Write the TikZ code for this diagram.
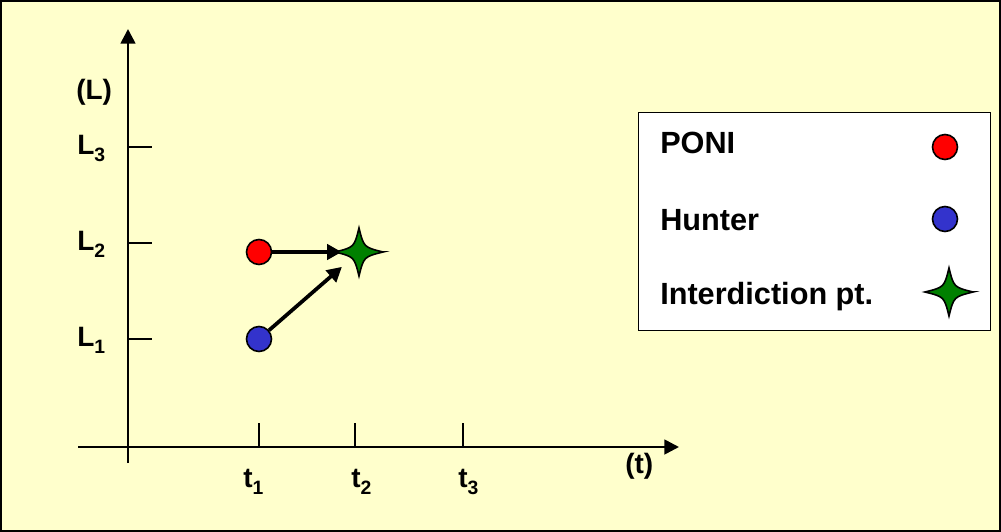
\documentclass[tikz,border=0pt]{standalone}
\usepackage{fontspec}
\setmainfont{Liberation Sans}
\usetikzlibrary{arrows.meta}
\definecolor{bgyellow}{HTML}{FFFFCC}
\definecolor{ponired}{HTML}{FF0000}
\definecolor{hunterblue}{HTML}{3333CC}
\definecolor{stargreen}{HTML}{008000}
\newcommand\axlab[2]{\fontsize{21}{22}\selectfont\bfseries #1\raisebox{-0.27em}{\fontsize{14.5}{15}\selectfont #2}}
\tikzset{
  axisline/.style={line width=2pt,-{Triangle[length=11pt,width=11pt]}},
  tickline/.style={line width=1.1pt},
  moveline/.style={line width=2.8pt,-{Triangle[length=11pt,width=11.5pt]}},
  dot/.style={circle,draw=black,line width=1.2pt,minimum size=18.75pt,inner sep=0pt},
  axtext/.style={inner sep=0pt,anchor=base west,font=\fontsize{21}{22}\selectfont\bfseries},
  legtext/.style={inner sep=0pt,anchor=base west,font=\fontsize{23}{24}\selectfont\bfseries},
  pics/fourstar/.style={code={
    \draw[fill=stargreen,draw=black,line width=1.2pt]
      (1,0) .. controls (0.2,0.2) .. (0,1)
      .. controls (-0.2,0.2) .. (-1,0)
      .. controls (-0.2,-0.2) .. (0,-1)
      .. controls (0.2,-0.2) .. cycle;}}
}
\begin{document}
\begin{tikzpicture}[x=0.75pt,y=-0.75pt]
\path[use as bounding box] (0,0) rectangle (1001,532);
\draw[fill=bgyellow,line width=1.5pt] (1,1) rectangle (1000,531);

% axes
\coordinate (ybot) at (128,463);
\coordinate (ytop) at (128,29);
\coordinate (xleft) at (78,447);
\coordinate (xright) at (679,447);
\draw[axisline] (ybot) -- (ytop);
\draw[axisline] (xleft) -- (xright);

% y ticks
\coordinate (l3a) at (128,147); \coordinate (l3b) at (152,147);
\coordinate (l2a) at (128,243); \coordinate (l2b) at (152,243);
\coordinate (l1a) at (128,339); \coordinate (l1b) at (152,339);
\draw[tickline] (l3a) -- (l3b);
\draw[tickline] (l2a) -- (l2b);
\draw[tickline] (l1a) -- (l1b);

% x ticks
\coordinate (t1a) at (259,447); \coordinate (t1b) at (259,423);
\coordinate (t2a) at (355,447); \coordinate (t2b) at (355,423);
\coordinate (t3a) at (463,447); \coordinate (t3b) at (463,423);
\draw[tickline] (t1a) -- (t1b);
\draw[tickline] (t2a) -- (t2b);
\draw[tickline] (t3a) -- (t3b);

% axis labels
\node[axtext] (Llab) at (76,99) {(L)};
\node[axtext] (L3) at (77,154) {\axlab{L}{3}};
\node[axtext] (L2) at (77,250) {\axlab{L}{2}};
\node[axtext] (L1) at (77,346) {\axlab{L}{1}};
\node[axtext] (T1) at (243,487) {\axlab{t}{1}};
\node[axtext] (T2) at (351,487) {\axlab{t}{2}};
\node[axtext] (T3) at (458,487) {\axlab{t}{3}};
\node[axtext] (tlab) at (625,473) {(t)};

% plot
\node[dot,fill=ponired] (poni) at (259,252) {};
\node[dot,fill=hunterblue] (hunter) at (259,339) {};
\coordinate (star) at (359,252);
\draw[moveline,shorten >=13pt] (poni) -- (star);
\draw[moveline,shorten >=17pt] (hunter) -- (star);
\pic[scale=24] at (star) {fourstar};

% legend
\node[draw=black,fill=white,line width=1pt,minimum width=264pt,minimum height=163.5pt,inner sep=0pt,anchor=north west] (legend) at (638,112) {};
\node[legtext] (legponi) at (660,153) {PONI};
\node[legtext] (leghunter) at (660,230) {Hunter};
\node[legtext] (legstar) at (660,304) {Interdiction pt.};
\node[dot,fill=ponired] (legpdot) at (945,147) {};
\node[dot,fill=hunterblue] (leghdot) at (945,219) {};
\coordinate (legstarc) at (949,292);
\pic[scale=24] at (legstarc) {fourstar};
\end{tikzpicture}
\end{document}
